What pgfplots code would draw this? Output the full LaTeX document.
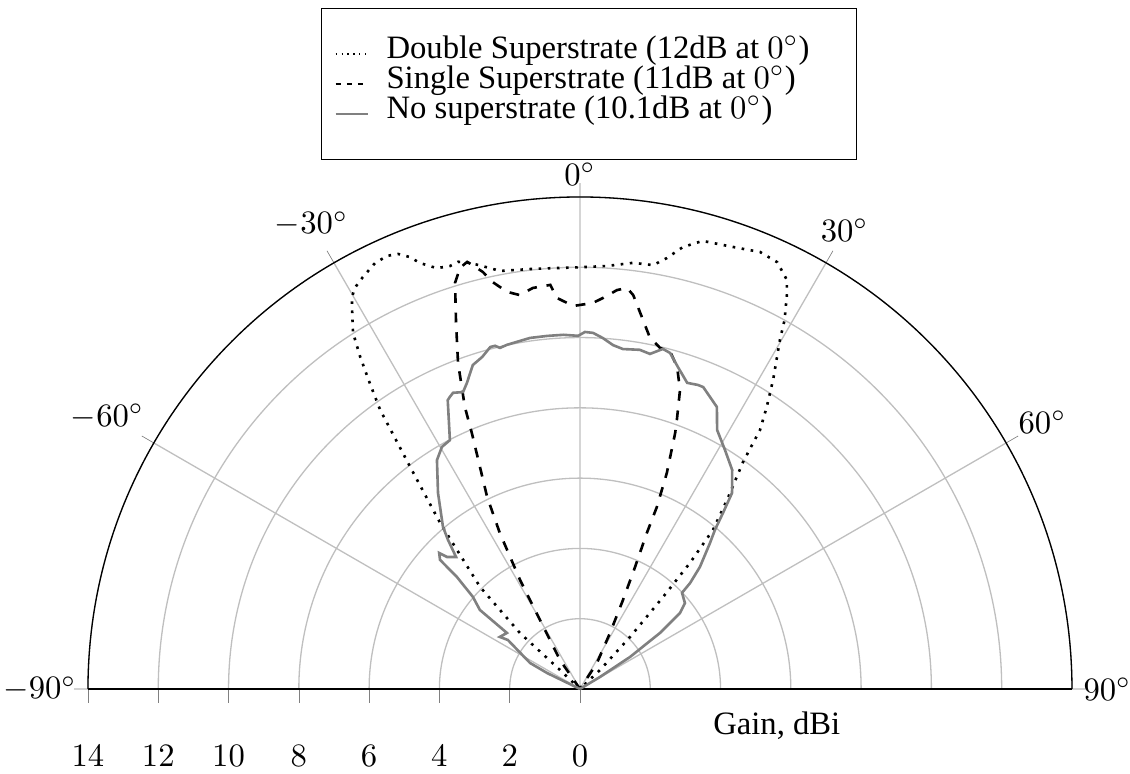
\documentclass[border=0pt]{standalone}
\usepackage{fontspec}
\setmainfont{Liberation Serif}
\usepackage{pgfplots}
\pgfplotsset{compat=1.18}
\usepackage{pgfplotstable}
\usepgfplotslibrary{polar}

% a = angle on the chart (deg, 0 = up), g = gain (dBi)
\pgfplotstableread{
a g
-90 0
-46.5 0.79
-47.0 2.34
-44.4 4.06
-40.1 6.18
-37.4 7.96
-35.6 9.77
-34.5 10.56
-33.5 11.33
-32.5 12.02
-31.0 12.59
-30.2 12.90
-29.3 13.09
-27.8 13.25
-25.7 13.45
-24.0 13.49
-22.7 13.42
-21.5 13.21
-20.6 12.95
-18.8 12.65
-17.1 12.59
-15.9 12.64
-14.7 12.54
-13.6 12.42
-10.8 12.11
-6.4 12.03
0 12.0
3.6 12.06
7.1 12.22
9.8 12.24
11.4 12.51
13.1 12.91
15.3 13.22
19.1 13.31
22.4 13.45
24.8 13.38
26.8 13.05
27.6 12.72
29.0 12.01
29.8 11.45
32.0 10.37
33.5 9.63
34.8 8.98
35.7 7.95
37.9 6.81
39.9 5.90
41.1 4.76
42.1 3.53
43.9 2.05
46.5 0.79
90 0
}\dbl

\pgfplotstableread{
a g
-90 0
-34.6 1.0
-30.1 2.27
-28.8 3.54
-27.2 4.99
-25.8 6.07
-22.9 7.91
-22.2 8.67
-20.5 9.91
-18.7 11.0
-17.1 12.09
-15.9 12.46
-14.8 12.57
-14.2 12.44
-13.1 12.18
-12.1 11.84
-10.4 11.49
-8.7 11.34
-6.7 11.49
-4.2 11.53
-3.4 11.15
-1.0 10.90
1.9 10.99
3.4 11.15
5.3 11.40
6.7 11.49
7.7 11.31
9.1 10.84
11.2 10.21
13.2 9.97
15.0 9.93
16.8 9.57
18.5 8.97
19.8 8.14
20.4 7.77
21.9 6.63
22.9 5.62
23.2 4.83
24.3 3.81
25.8 2.81
28.2 1.81
33.2 0.88
90 0
}\sgl

\pgfplotstableread{
a g
-90 0
-64.1 1.04
-62.5 1.60
-55.8 2.48
-57.0 2.72
-52.5 2.62
-51.7 3.63
-49.3 4.02
-47.7 4.73
-47.3 5.42
-46.0 5.57
-45.2 5.33
-43.2 5.15
-41.5 5.67
-40.2 6.04
-35.9 6.89
-32.0 7.68
-29.7 7.93
-27.6 7.99
-24.6 9.04
-24.0 9.10
-23.2 9.17
-21.5 9.08
-20.3 9.28
-18.3 9.71
-16.4 9.85
-14.7 10.06
-13.9 10.06
-13.2 9.97
-12.0 10.01
-10.3 10.04
-8.1 10.09
-5.3 10.09
-2.7 10.09
-0.3 10.05
0.8 10.16
2.1 10.14
3.7 10.01
5.5 9.83
7.2 9.75
10.0 9.80
11.8 9.74
13.7 9.96
15.0 9.90
16.9 9.58
19.3 9.23
21.2 9.28
22.2 9.28
25.9 8.92
27.9 8.34
31.2 7.96
34.8 7.59
37.8 7.06
39.1 6.45
40.3 5.94
41.7 5.56
44.5 4.87
46.1 4.35
46.7 3.99
50.7 3.86
52.8 3.57
55.0 2.78
57.4 1.69
59.0 0.66
90 0
}\nos

\begin{document}
\begin{tikzpicture}
\begin{polaraxis}[
  width=301.4pt, scale only axis, clip=false,
  xmin=0, xmax=180, ymin=0, ymax=14,
  xtick={0,30,...,180},
  xticklabels={$90^\circ$,$60^\circ$,$30^\circ$,$0^\circ$,$-30^\circ$,$-60^\circ$,$-90^\circ$},
  ytick={0,2,...,14},
  yticklabels={},
  grid=major,
  major grid style={black!25, line width=0.4pt},
  legend cell align=left,
  legend image code/.code={\draw[#1, line width=0.6pt] (0pt,0pt) -- (9.8pt,0pt);},
  legend style={at={(0.5,1)}, anchor=south, yshift=11.3pt, xshift=2.8pt,
    draw=black, fill=white, font=\normalsize,
    inner xsep=4pt, inner ysep=9.3pt, column sep=5.5pt,
    nodes={inner sep=0pt, text height=6.0pt, text depth=3.2pt}},
]
\addlegendimage{black, dash pattern=on 0.4pt off 1.4pt}
\addlegendentry{Double Superstrate (12dB at $0^\circ$)\kern10.4pt}
\addlegendimage{black, dash pattern=on 1.7pt off 1.7pt}
\addlegendentry{Single Superstrate (11dB at $0^\circ$)}
\addlegendimage{black!50}
\addlegendentry{No superstrate (10.1dB at $0^\circ$)}
\addplot[forget plot, black, thick, dotted] table[x expr=90-\thisrow{a}, y=g]{\dbl};
\addplot[forget plot, black, thick, dashed] table[x expr=90-\thisrow{a}, y=g]{\sgl};
\addplot[forget plot, black!50, thick] table[x expr=90-\thisrow{a}, y=g]{\nos};
\pgfplotsinvokeforeach{0,2,...,14}{\node at (axis cs:180,#1) [yshift=-20.6pt] {$#1$};}
\node[yshift=-11.3pt] at (axis cs:0,5.6) {Gain, dBi};
\coordinate (C) at (axis cs:0,0);
\end{polaraxis}
\pgfresetboundingbox
\path (C) ++(-177.65pt,-26.04pt) rectangle ++(346.12pt,237.08pt);
\end{tikzpicture}
\end{document}
